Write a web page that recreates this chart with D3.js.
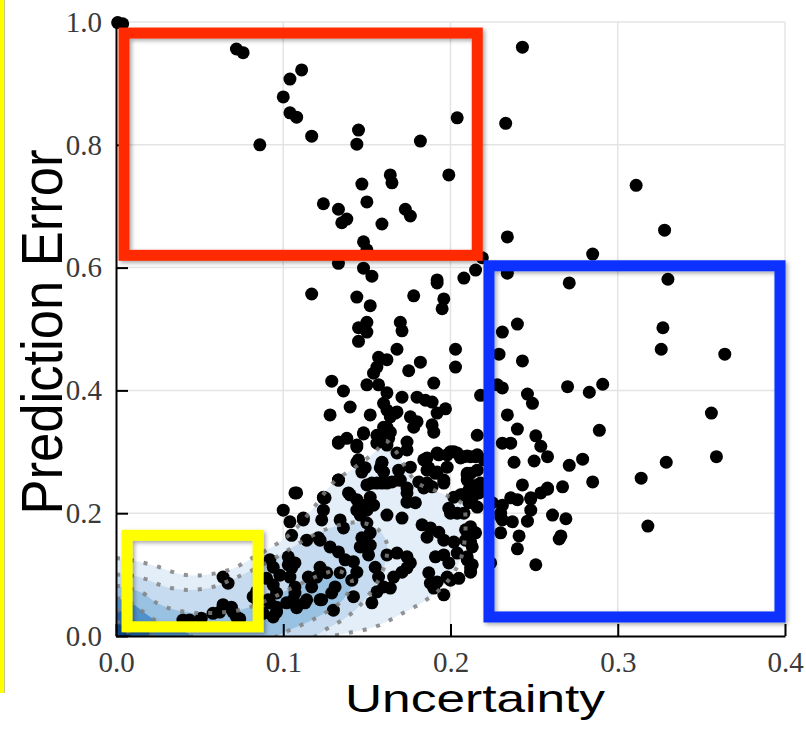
<!DOCTYPE html>
<html><head><meta charset="utf-8">
<script src="https://cdn.jsdelivr.net/npm/d3@7"></script>
<style>body{margin:0;background:#fff}svg{display:block}</style>
</head><body>
<svg id="chart" width="806" height="747"></svg>
<script>
// ---------- data ----------
const xTicks = [0.0, 0.1, 0.2, 0.3, 0.4];
const yTicks = [0.0, 0.2, 0.4, 0.6, 0.8, 1.0];
const xTitle = "Uncertainty";
const yTitle = "Prediction Error";

// [uncertainty, prediction error]
const topSamples = [
 [0.001,0.999],[0.004,0.997],[0.072,0.956],[0.076,0.950],[0.111,0.922],[0.104,0.907],[0.100,0.878],[0.104,0.852],[0.108,0.845],[0.117,0.814],[0.086,0.800],[0.145,0.824],[0.144,0.801],[0.182,0.806],[0.204,0.844],[0.199,0.751],[0.164,0.751],[0.165,0.738],[0.147,0.736],[0.150,0.707],[0.124,0.704],[0.133,0.695],[0.138,0.679],[0.135,0.673],[0.159,0.671],[0.173,0.695],[0.176,0.684],[0.148,0.642],[0.150,0.629],[0.133,0.607],[0.148,0.599],[0.153,0.586],[0.219,0.616],[0.215,0.596],[0.208,0.583],[0.192,0.580],
 [0.243,0.959],[0.233,0.835],[0.311,0.734],[0.328,0.661],[0.234,0.650],[0.285,0.622],[0.330,0.581],[0.271,0.575],[0.234,0.591]
];
const rightSamples = [
 [0.240,0.508],[0.231,0.495],[0.229,0.459],[0.243,0.448],[0.203,0.467],[0.203,0.438],[0.327,0.502],[0.326,0.467],[0.364,0.459],[0.270,0.406],[0.283,0.397],[0.291,0.410],[0.228,0.409],[0.231,0.404],[0.246,0.394],[0.249,0.379],[0.218,0.392],[0.234,0.360],[0.356,0.363],[0.289,0.335],[0.240,0.337],[0.251,0.326],[0.254,0.309],[0.216,0.327],[0.231,0.314],[0.236,0.314],[0.258,0.292],[0.238,0.283],[0.250,0.285],[0.271,0.278],[0.279,0.288],[0.329,0.283],[0.359,0.292],[0.314,0.257],[0.285,0.251],[0.243,0.246],[0.267,0.243],[0.258,0.239],[0.254,0.233],[0.248,0.223],[0.236,0.225],[0.240,0.222],[0.248,0.205],[0.246,0.187],[0.261,0.197],[0.269,0.191],[0.266,0.163],[0.265,0.158],[0.241,0.163],[0.240,0.142],[0.251,0.116],[0.318,0.179],[0.230,0.194],[0.230,0.168],[0.225,0.217],
 [0.202,0.300],[0.206,0.290],[0.210,0.293],[0.215,0.292],[0.210,0.262],[0.216,0.246],[0.217,0.233],[0.207,0.230],[0.211,0.217],[0.204,0.200],[0.208,0.200],[0.202,0.226],[0.258,0.241],[0.248,0.225],[0.231,0.213],[0.230,0.200],[0.231,0.189],[0.237,0.186],[0.212,0.178],[0.215,0.168],[0.209,0.156],[0.204,0.135],[0.210,0.124],[0.212,0.111],[0.205,0.094],[0.224,0.119],[0.220,0.287],[0.216,0.270]
];
const middleSamples = [
 [0.117,0.557],[0.144,0.552],[0.152,0.538],[0.178,0.554],[0.192,0.575],[0.196,0.549],[0.195,0.533],[0.150,0.511],[0.145,0.502],[0.150,0.495],[0.145,0.480],[0.170,0.511],[0.171,0.497],[0.168,0.467],[0.157,0.454],[0.162,0.450],[0.182,0.446],[0.156,0.438],[0.154,0.428],[0.175,0.432],[0.129,0.415],[0.150,0.409],[0.157,0.409],[0.190,0.412],[0.136,0.399],[0.162,0.396],[0.171,0.389],[0.180,0.389],[0.185,0.384],[0.189,0.381],[0.140,0.373],[0.160,0.379],[0.162,0.368],[0.128,0.360],[0.152,0.360],[0.168,0.365],[0.176,0.357],[0.180,0.349],[0.192,0.363],[0.197,0.370],[0.189,0.344],[0.190,0.332],[0.160,0.340],[0.164,0.332],[0.133,0.316],[0.138,0.322],[0.144,0.308],[0.148,0.329],[0.156,0.327],[0.174,0.316],[0.174,0.303],[0.163,0.322],[0.192,0.298],[0.200,0.300],[0.208,0.292],[0.184,0.287],[0.186,0.270],[0.144,0.283],[0.149,0.274],[0.159,0.282],[0.160,0.267],[0.169,0.270],[0.176,0.275],[0.192,0.267],[0.196,0.254],[0.210,0.265],[0.133,0.254],[0.150,0.246],[0.156,0.249],[0.162,0.249],[0.169,0.254],[0.108,0.233],[0.124,0.226],[0.140,0.230],[0.174,0.241],[0.184,0.241],[0.189,0.243],[0.218,0.249],
 [0.164,0.357],[0.167,0.363],[0.178,0.340],[0.162,0.340],[0.148,0.331],[0.157,0.324],[0.160,0.316]
];
const lowerSamples = [
 [0.133,0.314],[0.144,0.311],[0.156,0.314],[0.162,0.311],[0.168,0.298],[0.159,0.283],[0.158,0.274],[0.145,0.287],[0.147,0.267],[0.193,0.295],[0.198,0.295],[0.204,0.298],[0.212,0.292],[0.216,0.295],[0.186,0.290],[0.187,0.274],[0.191,0.265],[0.198,0.275],[0.212,0.265],[0.210,0.254],
 [0.107,0.233],[0.124,0.225],[0.139,0.233],[0.144,0.222],[0.148,0.213],[0.152,0.226],[0.154,0.213],[0.153,0.249],[0.159,0.249],[0.165,0.251],[0.170,0.254],[0.181,0.251],[0.186,0.249],[0.196,0.249],[0.174,0.233],[0.179,0.217],[0.174,0.218],[0.206,0.230],[0.211,0.238],[0.213,0.225],[0.216,0.210],[0.199,0.208],[0.200,0.200],
 [0.144,0.205],[0.146,0.197],[0.150,0.205],[0.162,0.197],[0.171,0.192],[0.112,0.189],[0.123,0.189],[0.134,0.189],[0.136,0.176],[0.150,0.184],[0.152,0.168],[0.183,0.181],[0.188,0.176],[0.186,0.161],[0.193,0.169],[0.209,0.173],[0.213,0.168],[0.196,0.156],[0.202,0.153],[0.212,0.153],[0.213,0.145],
 [0.114,0.156],[0.122,0.156],[0.128,0.145],[0.133,0.137],[0.147,0.160],[0.152,0.148],[0.146,0.145],[0.151,0.132],[0.162,0.132],[0.168,0.135],[0.174,0.129],[0.176,0.119],[0.191,0.129],[0.196,0.132],[0.199,0.119],[0.210,0.129],[0.213,0.116],[0.212,0.104],
 [0.107,0.119],[0.104,0.096],[0.122,0.112],[0.120,0.096],[0.115,0.096],[0.117,0.080],[0.126,0.103],[0.134,0.103],[0.137,0.124],[0.142,0.121],[0.144,0.104],[0.141,0.091],[0.131,0.080],[0.129,0.070],[0.155,0.112],[0.157,0.096],[0.160,0.080],[0.156,0.072],[0.166,0.096],[0.171,0.104],[0.174,0.111],[0.187,0.103],[0.188,0.086],[0.192,0.088],[0.198,0.096],[0.200,0.091],[0.190,0.078],[0.196,0.067],[0.164,0.078],
 [0.106,0.059],[0.113,0.054],[0.122,0.059],[0.130,0.042],[0.142,0.064],[0.153,0.054],[0.107,0.080]
];
const leftSamples = [
 [0.100,0.205],[0.104,0.186],[0.105,0.164],[0.103,0.129],[0.094,0.112],[0.098,0.099],[0.105,0.111],[0.090,0.094],[0.094,0.083],[0.084,0.072],[0.082,0.064],[0.085,0.054],[0.091,0.059],[0.096,0.047],[0.102,0.054],[0.108,0.046],
 [0.064,0.096],[0.067,0.086],[0.069,0.047],[0.065,0.047],[0.062,0.039],[0.058,0.037],[0.072,0.031],[0.074,0.028],[0.051,0.029],[0.044,0.026],[0.040,0.026],[0.088,0.037],[0.094,0.031],[0.096,0.039],[0.064,0.051],[0.070,0.039],
 [0.112,0.192],[0.125,0.225],[0.133,0.254],[0.124,0.205],[0.121,0.160],[0.092,0.124],[0.103,0.116],[0.096,0.070],[0.092,0.054],[0.107,0.070],[0.114,0.059],[0.123,0.059]
];

// density contours (outer -> inner), each a closed ring of [uncertainty, error]
const densityContours = [
 [[-0.02,0.13],[0.0,0.127],[0.02,0.117],[0.04,0.100],[0.055,0.100],[0.07,0.110],[0.082,0.128],[0.095,0.148],[0.105,0.168],[0.117,0.205],[0.13,0.250],[0.143,0.275],[0.155,0.300],[0.161,0.318],[0.167,0.302],[0.173,0.275],[0.18,0.250],[0.195,0.232],[0.207,0.215],[0.209,0.180],[0.206,0.125],[0.197,0.085],[0.185,0.058],[0.17,0.035],[0.155,0.015],[0.135,0.003],[0.11,-0.01],[0.05,-0.03],[-0.02,-0.03]],
 [[-0.02,0.10],[0.0,0.10],[0.014,0.096],[0.03,0.080],[0.044,0.075],[0.058,0.080],[0.07,0.093],[0.085,0.112],[0.10,0.135],[0.115,0.16],[0.13,0.178],[0.145,0.185],[0.156,0.175],[0.162,0.150],[0.16,0.11],[0.152,0.07],[0.14,0.035],[0.125,0.01],[0.105,-0.02],[-0.02,-0.03]],
 [[-0.02,0.085],[0.0,0.082],[0.016,0.07],[0.023,0.056],[0.032,0.045],[0.045,0.038],[0.06,0.038],[0.075,0.043],[0.09,0.058],[0.105,0.078],[0.12,0.097],[0.133,0.106],[0.141,0.09],[0.136,0.06],[0.12,0.03],[0.1,0.005],[0.08,-0.02],[-0.02,-0.03]],
 [[-0.02,0.065],[0.0,0.062],[0.01,0.052],[0.018,0.036],[0.026,0.022],[0.036,0.012],[0.045,0.0],[0.046,-0.02],[-0.02,-0.03]],
 [[-0.02,0.045],[0.0,0.043],[0.007,0.032],[0.013,0.018],[0.02,0.005],[0.022,-0.02],[-0.02,-0.03]],
 [[-0.02,0.026],[0.0,0.024],[0.005,0.012],[0.009,0.0],[0.01,-0.02],[-0.02,-0.03]]
];

// highlight boxes: [x0, x1, y0, y1] in data units
const highlightBoxes = [
 [0.0048, 0.216, 0.982, 0.620],
 [0.223, 0.397, 0.603, 0.031],
 [0.0066, 0.085, 0.164, 0.015]
];

// ---------- drawing ----------
const svg = d3.select("#chart");
const x = d3.scaleLinear().domain([0, 0.4]).range([116, 785]);
const y = d3.scaleLinear().domain([0, 1]).range([636, 22]);
const [X0, X1] = x.range(); const [Y0, Y1] = y.range();

const defs = svg.append("defs");
defs.append("clipPath").attr("id", "plot").append("rect")
  .attr("x", X0).attr("y", Y1).attr("width", X1 - X0).attr("height", Y0 - Y1);
const f = defs.append("filter").attr("id", "shadow").attr("x", "-10%").attr("y", "-10%").attr("width", "120%").attr("height", "120%");
f.append("feDropShadow").attr("dx", 2).attr("dy", 2).attr("stdDeviation", 2).attr("flood-color", "#000").attr("flood-opacity", 0.35);

// slide strip on the left
svg.append("rect").attr("x", 0).attr("y", 0).attr("width", 4).attr("height", 693).attr("fill", "#ffff00");
svg.append("line").attr("x1", 4.5).attr("x2", 4.5).attr("y1", 0).attr("y2", 693).attr("stroke", "#c9c98a").attr("stroke-width", 1);

// grid
const grid = svg.append("g");
grid.selectAll(".gx").data(xTicks.slice(1)).join("line")
  .attr("x1", d => x(d)).attr("x2", d => x(d)).attr("y1", Y0).attr("y2", Y1)
  .attr("stroke", "#e4e4e4").attr("stroke-width", 1.5);
grid.selectAll(".gy").data(yTicks.slice(1)).join("line")
  .attr("y1", d => y(d)).attr("y2", d => y(d)).attr("x1", X0).attr("x2", X1)
  .attr("stroke", "#e4e4e4").attr("stroke-width", 1.5);

// density fills
const ring = d3.line().x(d => x(d[0])).y(d => y(d[1])).curve(d3.curveCatmullRomClosed.alpha(0.5));
const fills = ["#e3eef8", "#c6dbef", "#98c1e2", "#4f91cc", "#2466a8", "#0c4686"];
svg.append("g").attr("clip-path", "url(#plot)")
  .selectAll("path").data(densityContours).join("path")
  .attr("d", ring).attr("fill", (d, i) => fills[i]).attr("stroke", "none");

// points
const samples = [...topSamples, ...rightSamples, ...middleSamples, ...lowerSamples, ...leftSamples];
svg.append("g").selectAll("circle").data(samples).join("circle")
  .attr("cx", d => x(d[0])).attr("cy", d => y(d[1])).attr("r", 6.5).attr("fill", "#000");

// dotted contour lines
svg.append("g").attr("clip-path", "url(#plot)")
  .selectAll("path").data(densityContours).join("path")
  .attr("d", ring).attr("fill", "none").attr("stroke", "#808080").attr("stroke-opacity", 0.85)
  .attr("stroke-width", 4).attr("stroke-dasharray", "4,10");

// axes
const fmt = d3.format(".1f");
const gx = svg.append("g").attr("transform", `translate(0,${Y0})`)
  .call(d3.axisBottom(x).tickValues(xTicks).tickFormat(fmt).tickSizeInner(-12).tickSizeOuter(0).tickPadding(15));
const gy = svg.append("g").attr("transform", `translate(${X0},0)`)
  .call(d3.axisLeft(y).tickValues(yTicks).tickFormat(fmt).tickSizeInner(-12).tickSizeOuter(0).tickPadding(14));
[gx, gy].forEach(g => {
  g.select(".domain").attr("stroke", "#000").attr("stroke-width", 2);
  g.selectAll(".tick line").attr("stroke", "#000").attr("stroke-width", 2);
  g.selectAll(".tick text").attr("font-family", "'Liberation Serif', serif").attr("font-size", 29).attr("fill", "#3a3a3a");
});

// highlight boxes
const boxColors = ["#ff2a00", "#0a32ff", "#ffff00"];
svg.append("g").selectAll("rect").data(highlightBoxes).join("rect")
  .attr("x", d => x(Math.min(d[0], d[1]))).attr("y", d => y(Math.max(d[2], d[3])))
  .attr("width", d => Math.abs(x(d[1]) - x(d[0]))).attr("height", d => Math.abs(y(d[3]) - y(d[2])))
  .attr("fill", "none").attr("stroke", (d, i) => boxColors[i]).attr("stroke-width", 11)
  .attr("filter", "url(#shadow)");

// titles
svg.append("text").attr("x", 475).attr("y", 712).attr("text-anchor", "middle")
  .attr("font-family", "'Liberation Sans', Arial, sans-serif").attr("font-size", 39)
  .attr("textLength", 260).attr("lengthAdjust", "spacingAndGlyphs").attr("fill", "#000").text(xTitle);
svg.append("text").attr("transform", "translate(62,332) rotate(-90)").attr("text-anchor", "middle")
  .attr("font-family", "'Liberation Sans', Arial, sans-serif").attr("font-size", 58)
  .attr("textLength", 365).attr("lengthAdjust", "spacingAndGlyphs").attr("fill", "#000").text(yTitle);
</script>
</body></html>
